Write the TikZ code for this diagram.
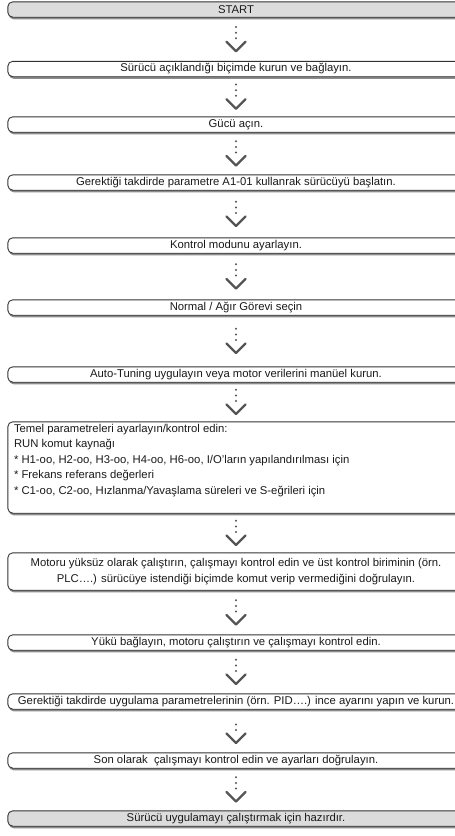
\documentclass[tikz,border=0pt]{standalone}
\usepackage{fontspec}
\setmainfont{Liberation Sans}
\usetikzlibrary{backgrounds}
\definecolor{boxline}{HTML}{333333}
\definecolor{shadowgray}{HTML}{8C8C8C}
\definecolor{arrowgray}{HTML}{555555}
\definecolor{startfill}{HTML}{DCDCDC}
\definecolor{textgray}{HTML}{1A1A1A}

% outline of a step box: rounded on the left, open to the right, with a drop shadow
\newcommand\stepframe[2]{%
  \fill[shadowgray, rounded corners=5pt]
    ([shift={(1pt,-2.2pt)}]#1.south east) -- ([shift={(1pt,-2.2pt)}]#1.south west) --
    ([shift={(1pt,-2.2pt)}]#1.north west) -- ([shift={(1pt,-2.2pt)}]#1.north east) -- cycle;
  \filldraw[fill=#2, draw=boxline, line width=0.9pt, rounded corners=5pt]
    (#1.south east) -- (#1.south west) -- (#1.north west) -- (#1.north east);
}
% dotted stem and chevron between two consecutive steps
\newcommand\steparrow[3]{%
  \path (#1.south) -- (#2.north) coordinate[pos=.5] (#3);
  \draw[dotline] ([yshift=1pt]#3) -- ([yshift=12.2pt]#3);
  \draw[chevron] ([shift={(-9.5pt,-2.5pt)}]#3) -- ([yshift=-12pt]#3) -- ([shift={(9.5pt,-2.5pt)}]#3);
}

\begin{document}
\begin{tikzpicture}[x=1pt,y=1pt,
  stepbox/.style={minimum width=456pt, minimum height=15pt, inner sep=0pt,
    font=\fontsize{11.3}{14}\selectfont, text=textgray, align=center},
  dotline/.style={draw=arrowgray, line width=2.2pt, line cap=round, dash pattern=on 0pt off 5.6pt},
  chevron/.style={draw=arrowgray, line width=2.3pt, line cap=round, line join=round}
]
\useasboundingbox (0,0) rectangle (455,-836);

\node[stepbox] (s1)  at (236,-9.5)   {START};
\node[stepbox] (s2)  at (236,-69)    {Sürücü açıklandığı biçimde kurun ve bağlayın.};
\node[stepbox] (s3)  at (236,-124.5) {Gücü açın.};
\node[stepbox] (s4)  at (236,-182.5) {Gerektiği takdirde parametre A1-01 kullanrak sürücüyü başlatın.};
\node[stepbox] (s5)  at (236,-245.5) {Kontrol modunu ayarlayın.};
\node[stepbox] (s6)  at (236,-307.5) {Normal / Ağır Görevi seçin};
\node[stepbox] (s7)  at (236,-374.5) {Auto-Tuning uygulayın veya motor verilerini manüel kurun.};
\node[stepbox, align=left] (s8) at (236,-467.5)
  {\parbox[c][91pt][t]{444pt}{\fontsize{11.3}{15.5}\selectfont\vspace*{2pt}\raggedright
   Temel parametreleri ayarlayın/kontrol edin:\\
   RUN komut kaynağı\\
   {*} H1-oo, H2-oo, H3-oo, H4-oo, H6-oo, I/O'ların yapılandırılması için\\
   {*} Frekans referans değerleri\\
   {*} C1-oo, C2-oo, Hızlanma/Yavaşlama süreleri ve S-eğrileri için}};
\node[stepbox, minimum height=37pt, font=\fontsize{11.3}{15.5}\selectfont] (s9) at (236,-571.5)
  {Motoru yüksüz olarak çalıştırın, çalışmayı kontrol edin ve üst kontrol biriminin (örn.\\
   PLC….) sürücüye istendiği biçimde komut verip vermediğini doğrulayın.};
\node[stepbox] (s10) at (236,-642.5) {Yükü bağlayın, motoru çalıştırın ve çalışmayı kontrol edin.};
\node[stepbox] (s11) at (236,-701.5) {Gerektiği takdirde uygulama parametrelerinin (örn. PID….) ince ayarını yapın ve kurun.};
\node[stepbox] (s12) at (236,-760.5) {Son olarak\ \ çalışmayı kontrol edin ve ayarları doğrulayın.};
\node[stepbox] (s13) at (236,-818.5) {Sürücü uygulamayı çalıştırmak için hazırdır.};

\begin{scope}[on background layer]
  \stepframe{s1}{startfill}
  \foreach \n in {s2,s3,s4,s5,s6,s7,s8,s9,s10,s11,s12} {\stepframe{\n}{white}}
  \stepframe{s13}{startfill}
\end{scope}

\steparrow{s1}{s2}{m1}
\steparrow{s2}{s3}{m2}
\steparrow{s3}{s4}{m3}
\steparrow{s4}{s5}{m4}
\steparrow{s5}{s6}{m5}
\steparrow{s6}{s7}{m6}
\steparrow{s7}{s8}{m7}
\steparrow{s8}{s9}{m8}
\steparrow{s9}{s10}{m9}
\steparrow{s10}{s11}{m10}
\steparrow{s11}{s12}{m11}
\steparrow{s12}{s13}{m12}
\end{tikzpicture}
\end{document}
